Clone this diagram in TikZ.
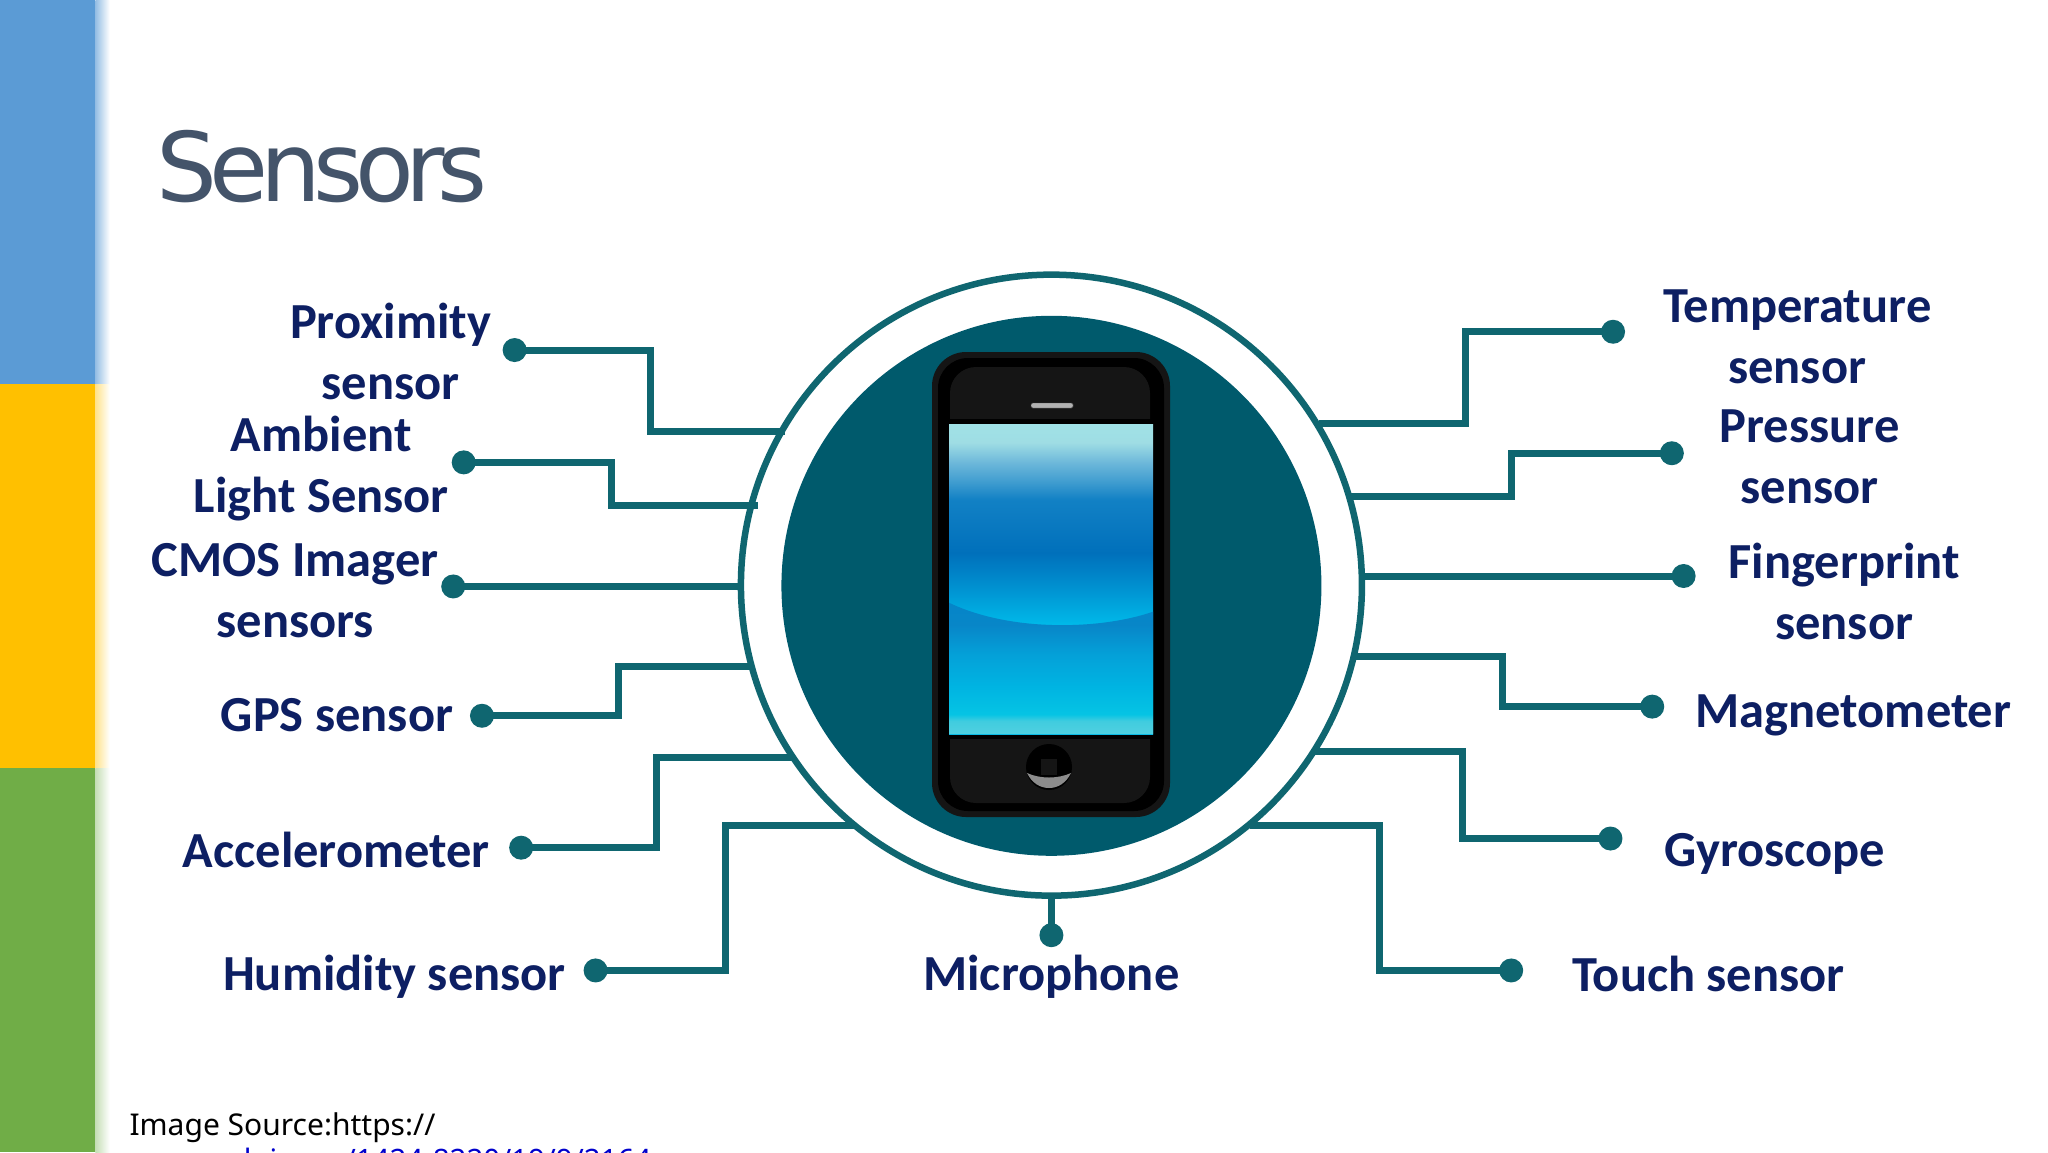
\documentclass[tikz,border=0pt]{standalone}
\usepackage{fontspec}
\setmainfont{Noto Sans}
\newfontfamily\lblfont{Carlito}
\newfontfamily\ttlfont[LetterSpace=-8.5]{DejaVu Sans}
\usetikzlibrary{calc}
\definecolor{teal1}{HTML}{0F6670}
\definecolor{disk}{HTML}{005A6C}
\definecolor{navy}{HTML}{0D1F63}
\definecolor{ttl}{HTML}{44546A}
\definecolor{barblue}{HTML}{5B9BD5}
\definecolor{baryel}{HTML}{FFC000}
\definecolor{bargrn}{HTML}{70AD47}
\definecolor{bezel}{HTML}{151515}
\definecolor{sa}{HTML}{00B8E8}
\definecolor{sb}{HTML}{0090D0}
\definecolor{sc}{HTML}{0070BB}
\definecolor{sd}{HTML}{1281C5}
\definecolor{se}{HTML}{3D9BCF}
\definecolor{sf}{HTML}{6DB8DA}
\definecolor{sg}{HTML}{9FDDE4}
\definecolor{sh}{HTML}{A0E2E6}
\definecolor{la}{HTML}{50D0E0}
\definecolor{lb}{HTML}{40CCDF}
\definecolor{lc}{HTML}{05C4E4}
\definecolor{ld}{HTML}{00B4E2}
\definecolor{le}{HTML}{04A0D8}
\definecolor{lf}{HTML}{0886C8}
\definecolor{lg}{HTML}{0585C8}
\pgfdeclareverticalshading{scrtop}{100bp}{
 color(0bp)=(sa);
 color(42.85bp)=(sa);
 color(48.8bp)=(sb);
 color(54.2bp)=(sc);
 color(62.85bp)=(sd);
 color(65.5bp)=(se);
 color(68.8bp)=(sf);
 color(72bp)=(sg);
 color(75bp)=(sh);
 color(100bp)=(sh)}
\pgfdeclareverticalshading{scrlow}{100bp}{
 color(0bp)=(la);
 color(25bp)=(la);
 color(30bp)=(lb);
 color(32.5bp)=(lc);
 color(43bp)=(ld);
 color(55.5bp)=(le);
 color(66.5bp)=(lf);
 color(75bp)=(lg);
 color(100bp)=(lg)}
\tikzset{
 sensorlabel/.style={font=\lblfont\bfseries\fontsize{50.5}{60.7}\selectfont,text=navy,align=center,inner sep=0pt},
 conn/.style={draw=teal1,line width=7pt,line join=miter},
 dotnode/.style={circle,fill=teal1,minimum size=24pt,inner sep=0pt},
}
\begin{document}
\begin{tikzpicture}[x=1.30612pt,y=-1.30612pt]
\useasboundingbox (0,0) rectangle (1568,882);
\begin{scope}
\clip (0,0) rectangle (1568,882);
\fill[white] (0,0) rectangle (1568,882);
% side bars
\fill[barblue] (0,0) rectangle (73,294);
\fill[baryel] (0,294) rectangle (73,588);
\fill[bargrn] (0,588) rectangle (73,882);
\shade[left color=barblue!65!white,right color=white] (73,0) rectangle (84,294);
\shade[left color=baryel!45!white,right color=white] (73,294) rectangle (84,588);
\shade[left color=bargrn!40!white,right color=white] (73,588) rectangle (84,882);
% title
\node[name=title,anchor=base west,inner sep=0pt,text=ttl,font=\ttlfont\fontsize{96}{110}\selectfont] at (120,154) {Sensors};
% source
\node[name=src,anchor=base west,inner sep=0pt,font=\fontsize{30}{35}\selectfont] at (99,869) {Image Source:https://};
\node[name=link,anchor=base west,inner sep=0pt,text=blue!80!black,font=\fontsize{29.5}{35}\selectfont] at (99,896) {www.mdpi.com/1424-8220/19/9/2164};
% ring and disk
\node[name=ring,circle,draw=teal1,line width=6.5pt,fill=white,minimum size=621pt,inner sep=0pt] at (805,448) {};
\node[name=diskn,circle,fill=disk,minimum size=540pt,inner sep=0pt] at (805,448.5) {};
% phone (pixel coordinates)
\begin{scope}[x=1pt,y=-1pt]
\fill[bezel] (932,352) [rounded corners=34pt] rectangle (1170,817);
\fill[black] (938,358) [rounded corners=30pt] rectangle (1164,811);
\fill[bezel] (950,367) [rounded corners=26pt] rectangle (1150,803);
\fill[black] (944,419) rectangle (1158,739);
\shade[shading=scrtop] (949,424) rectangle (1153,734);
\shade[shading=scrlow] (949,602.7) .. controls (1010,632) and (1100,630) .. (1153,611.7) -- (1153,734) -- (949,734) -- cycle;
\fill[black!30,draw=black!70] (1031,403) [rounded corners=1.5pt] rectangle (1073,408);
\fill[black] (1049,767) circle (23pt);
\fill[bezel] (1041,759) rectangle (1057,775);
\fill[black!45] (1027,773) .. controls (1040,779) and (1058,779) .. (1071,773) .. controls (1066,783) and (1058,788) .. (1049,788) .. controls (1040,788) and (1032,783) .. (1027,773) -- cycle;
\end{scope}
% labels
\node[sensorlabel,name=lProx] at (299,269) {Proximity\\sensor};
\node[sensorlabel,name=lAmb] at (246,359) {Ambient\\Light Sensor};
\node[sensorlabel,name=lCmos] at (226,452) {CMOS Imager\\sensors};
\node[sensorlabel,name=lGps] at (258,547.5) {GPS sensor};
\node[sensorlabel,name=lAcc] at (257.5,651) {Accelerometer};
\node[sensorlabel,name=lHum] at (302,748) {Humidity sensor};
\node[sensorlabel,name=lMic] at (805,747.5) {Microphone};
\node[sensorlabel,name=lTouch] at (1308,746) {Touch sensor};
\node[sensorlabel,name=lGyro] at (1359,654) {Gyroscope};
\node[sensorlabel,name=lMag] at (1419,548) {Magnetometer};
\node[sensorlabel,name=lFing] at (1412,453) {Fingerprint\\sensor};
\node[sensorlabel,name=lPres] at (1385.5,350) {Pressure\\sensor};
\node[sensorlabel,name=lTemp] at (1376,258) {Temperature\\sensor};
% dots
\node[dotnode,name=dProx] at (394,268) {};
\node[dotnode,name=dAmb] at (355,354) {};
\node[dotnode,name=dCmos] at (347,449) {};
\node[dotnode,name=dGps] at (369,548) {};
\node[dotnode,name=dAcc] at (399,649) {};
\node[dotnode,name=dHum] at (456,743) {};
\node[dotnode,name=dMic] at (805,716) {};
\node[dotnode,name=dTouch] at (1157,743) {};
\node[dotnode,name=dGyro] at (1233,642) {};
\node[dotnode,name=dMag] at (1265,541) {};
\node[dotnode,name=dFing] at (1289,441) {};
\node[dotnode,name=dPres] at (1280,347) {};
\node[dotnode,name=dTemp] at (1235,254) {};
% ring ends
\coordinate (eProx) at (601,330);
\coordinate (eAmb) at (580,387);
\coordinate (eCmos) at (568,449);
\coordinate (eGps) at (575,510);
\coordinate (eAcc) at (607,580);
\coordinate (eHum) at (655,632);
\coordinate (eMic) at (805,687);
\coordinate (eTouch) at (957,632);
\coordinate (eGyro) at (1005,575);
\coordinate (eMag) at (1036,503);
\coordinate (eFing) at (1043,441);
\coordinate (ePres) at (1033,380);
\coordinate (eTemp) at (1010,324);
% connectors
\draw[conn] (dProx.center) -- (dProx.center -| 498,0) -- (eProx -| 498,0) -- (eProx);
\draw[conn] (dAmb.center) -- (dAmb.center -| 468,0) -- (eAmb -| 468,0) -- (eAmb);
\draw[conn] (dCmos.center) -- (eCmos);
\draw[conn] (dGps.center) -- (dGps.center -| 473.5,0) -- (eGps -| 473.5,0) -- (eGps);
\draw[conn] (dAcc.center) -- (dAcc.center -| 502.5,0) -- (eAcc -| 502.5,0) -- (eAcc);
\draw[conn] (dHum.center) -- (dHum.center -| 555.5,0) -- (eHum -| 555.5,0) -- (eHum);
\draw[conn] (dMic.center) -- (eMic);
\draw[conn] (dTouch.center) -- (dTouch.center -| 1056,0) -- (eTouch -| 1056,0) -- (eTouch);
\draw[conn] (dGyro.center) -- (dGyro.center -| 1120,0) -- (eGyro -| 1120,0) -- (eGyro);
\draw[conn] (dMag.center) -- (dMag.center -| 1150,0) -- (eMag -| 1150,0) -- (eMag);
\draw[conn] (dFing.center) -- (eFing);
\draw[conn] (dPres.center) -- (dPres.center -| 1157,0) -- (ePres -| 1157,0) -- (ePres);
\draw[conn] (dTemp.center) -- (dTemp.center -| 1122,0) -- (eTemp -| 1122,0) -- (eTemp);
\end{scope}
\end{tikzpicture}
\end{document}
